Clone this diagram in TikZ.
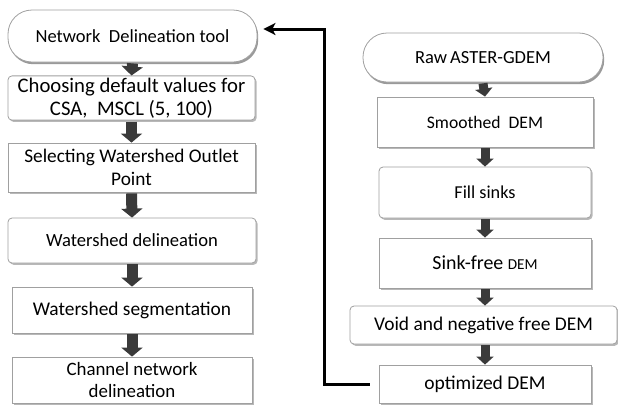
\documentclass[tikz,border=0pt]{standalone}
\usepackage{fontspec}
\setmainfont{Carlito}
\usetikzlibrary{arrows.meta}
\definecolor{arrowgray}{HTML}{3A3A3A}
\definecolor{bordergray}{HTML}{A0A0A0}
\definecolor{shadowgray}{HTML}{B8B8B8}
\definecolor{shadowdark}{HTML}{9A9A9A}
\begin{document}
\begin{tikzpicture}[x=1pt,y=-1pt,
  base/.style={draw=bordergray, line width=0.8pt, fill=white, align=center,
    inner sep=2pt, font=\fontsize{18.5}{21.5}\selectfont,
    preaction={draw=none, fill=shadowgray, transform canvas={xshift=1.6pt, yshift=-1.8pt}}},
  sq/.style={base},
  rnd/.style={base, rounded corners=4pt},
  stadium/.style={draw=bordergray, line width=0.8pt, fill=white, align=center,
    inner sep=2pt, font=\fontsize{18.5}{21.5}\selectfont, rounded corners=24pt,
    preaction={draw=none, fill=shadowdark, transform canvas={xshift=1.2pt, yshift=-2.2pt}}},
  blkL/.style={arrowgray, line width=11pt, -{Triangle[width=21pt,length=9pt]}},
  blkR/.style={arrowgray, line width=9pt, -{Triangle[width=17pt,length=8pt]}},
  fb/.style={black, line width=3pt, -{Stealth[width=12pt,length=12pt,inset=3pt]}}
]
\useasboundingbox (0,0) rectangle (618,408);

% left column
\node[stadium, minimum width=249pt, minimum height=52pt] (n1) at (132.5,36) {Network\ \ Delineation tool};
\node[rnd, minimum width=247pt, minimum height=44pt, font=\fontsize{20.7}{23}\selectfont] (n2) at (131.5,98) {Choosing default values for\\CSA,\ \ MSCL (5, 100)};
\node[sq, minimum width=247pt, minimum height=49pt, font=\fontsize{19.3}{22.5}\selectfont] (n3) at (131.5,167.5) {Selecting Watershed Outlet\\Point};
\node[rnd, minimum width=248pt, minimum height=45pt, font=\fontsize{18.6}{21}\selectfont] (n4) at (132,240.5) {Watershed delineation};
\node[sq, minimum width=240pt, minimum height=46pt, font=\fontsize{19.4}{22}\selectfont] (n5) at (132,310) {Watershed segmentation};
\node[sq, minimum width=240pt, minimum height=46pt, font=\fontsize{18.9}{22}\selectfont] (n6) at (132,380) {Channel network\\delineation};

% right column
\node[stadium, minimum width=240pt, minimum height=49pt] (r1) at (483,57.5) {Raw\,ASTER-GDEM};
\node[sq, minimum width=216pt, minimum height=50pt, font=\fontsize{17.6}{20}\selectfont] (r2) at (485,122) {Smoothed\ \ DEM};
\node[rnd, minimum width=212pt, minimum height=51pt, font=\fontsize{18.2}{21}\selectfont] (r3) at (485,192.5) {Fill sinks};
\node[sq, minimum width=212pt, minimum height=50pt, font=\fontsize{19.9}{22}\selectfont] (r4) at (485,263) {Sink-free {\fontsize{15.2}{17}\selectfont DEM}};
\node[rnd, minimum width=267pt, minimum height=38pt, font=\fontsize{19.4}{22}\selectfont] (r5) at (483.5,325) {Void and negative free DEM};
\node[sq, minimum width=212pt, minimum height=38pt, font=\fontsize{19.5}{22}\selectfont] (r6) at (485,384) {optimized DEM};

% block arrows left
\draw[blkL] ([yshift=-1pt]n1.south) -- (n2.north);
\draw[blkL] ([yshift=-1pt]n2.south) -- (n3.north);
\draw[blkL] ([yshift=-1pt]n3.south) -- (n4.north);
\draw[blkL] ([yshift=-1pt]n4.south) -- (n5.north);
\draw[blkL] ([yshift=-1pt]n5.south) -- (n6.north);

% block arrows right
\draw[blkR] ([yshift=-1pt]r1.south) -- (r2.north);
\draw[blkR] ([yshift=-1pt]r2.south) -- (r3.north);
\draw[blkR] ([yshift=-1pt]r3.south) -- (r4.north);
\draw[blkR] ([yshift=-1pt]r4.south) -- ([xshift=1.5pt]r5.north);
\draw[blkR] ([xshift=1.5pt,yshift=-1pt]r5.south) -- (r6.north);

% feedback connector
\coordinate (corner) at (324,384);
\draw[fb, shorten <=9pt, shorten >=6pt] (r6.west) -- (corner) |- ([yshift=7pt]n1.east);
\end{tikzpicture}
\end{document}
